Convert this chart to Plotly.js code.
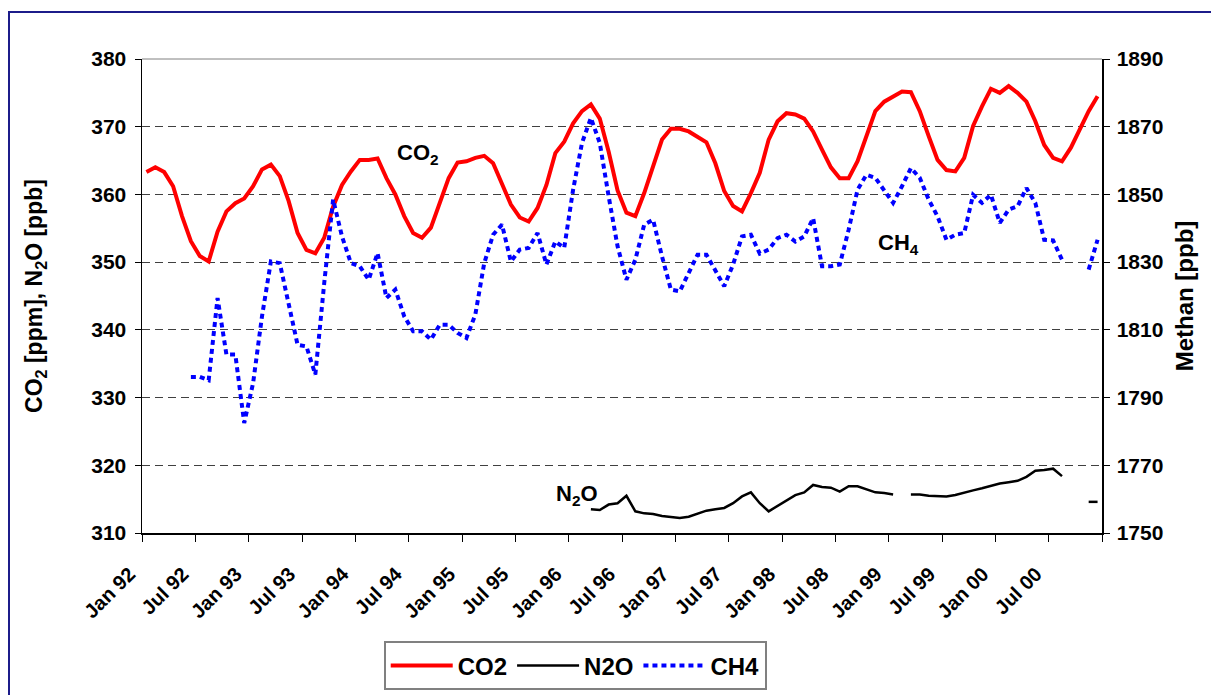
<!DOCTYPE html>
<html>
<head>
<meta charset="utf-8">
<script src="https://cdn.plot.ly/plotly-3.0.1.min.js"></script>
<style>
  body { margin: 0; background: #ffffff; overflow: hidden; }
  #frame { position: absolute; left: 8px; top: 11px; width: 1240px; height: 720px; border: 2px solid #1c1c8a; }
  #chart { position: absolute; left: 0; top: 0; width: 1211px; height: 695px; }
</style>
</head>
<body>
<div id="frame"></div>
<div id="chart"></div>
<script>
// monthly values, Jan 92 .. Dec 00 (108 months)
const co2 = [
    363.3, 364.0, 363.3, 361.2, 356.8, 353.1, 350.9, 350.1, 354.5, 357.5, 358.7, 359.4,
    361.2, 363.7, 364.4, 362.7, 359.0, 354.3, 351.8, 351.3, 353.6, 358.2, 361.4, 363.4,
    365.1, 365.1, 365.3, 362.4, 360.0, 356.8, 354.3, 353.6, 355.1, 358.7, 362.4, 364.7,
    364.9, 365.4, 365.7, 364.6, 361.7, 358.5, 356.6, 356.0, 358.0, 361.4, 366.1, 367.8,
    370.5, 372.3, 373.3, 371.2, 366.3, 360.6, 357.3, 356.8, 360.2, 364.1, 368.1, 369.7,
    369.7, 369.3, 368.5, 367.7, 364.6, 360.5, 358.3, 357.5, 360.2, 363.2, 368.1, 370.8,
    372.0, 371.8, 371.2, 369.3, 366.6, 364.0, 362.4, 362.4, 364.9, 368.8, 372.3, 373.7,
    374.5, 375.2, 375.1, 372.3, 368.6, 365.1, 363.6, 363.4, 365.4, 370.1, 373.0, 375.6,
    375.0, 376.0, 375.0, 373.7, 370.8, 367.3, 365.4, 364.9, 366.9, 369.6, 372.3, 374.5
];

const n2o = [
    null, null, null, null, null, null, null, null, null, null, null, null,
    null, null, null, null, null, null, null, null, null, null, null, null,
    null, null, null, null, null, null, null, null, null, null, null, null,
    null, null, null, null, null, null, null, null, null, null, null, null,
    null, null, 313.5, 313.4, 314.2, 314.4, 315.5, 313.2, 312.9, 312.8, 312.5, 312.4,
    312.2, 312.4, 312.8, 313.3, 313.5, 313.7, 314.4, 315.4, 316.0, 314.4, 313.2, 314.0,
    314.9, 315.6, 316.0, 317.1, 316.8, 316.7, 316.1, 316.9, 316.9, 316.4, 316.0, 315.9,
    315.7, null, 315.7, 315.7, 315.5, 315.4, 315.4, 315.6, 316.0, 316.3, 316.6, 317.0,
    317.3, 317.5, 317.7, 318.3, 319.2, 319.3, 319.5, 318.4, null, null, 314.6, 314.6
];

const ch4 = [
    null, null, null, null, null, 1796.1, 1796.1, 1795.1, 1819.4, 1802.7, 1802.7, 1782.5,
    1794.3, 1814.0, 1830.2, 1829.7, 1817.0, 1805.6, 1805.1, 1796.8, 1823.8, 1848.5, 1837.6, 1829.7,
    1828.8, 1824.8, 1832.7, 1819.4, 1821.9, 1814.0, 1809.6, 1809.6, 1807.1, 1811.5, 1811.5, 1809.1,
    1807.6, 1814.5, 1829.7, 1838.1, 1841.1, 1830.2, 1833.7, 1834.2, 1838.6, 1829.3, 1836.1, 1834.2,
    1851.4, 1865.2, 1872.6, 1865.2, 1849.4, 1834.7, 1824.8, 1830.7, 1841.1, 1842.5, 1831.7, 1821.9,
    1821.4, 1826.8, 1832.2, 1832.2, 1827.8, 1822.9, 1829.3, 1837.6, 1838.1, 1832.5, 1833.7, 1837.1,
    1838.1, 1836.1, 1837.6, 1843.0, 1828.8, 1828.8, 1829.3, 1839.6, 1851.4, 1855.8, 1854.9, 1851.4,
    1847.5, 1852.4, 1857.8, 1854.9, 1848.5, 1843.5, 1836.6, 1838.1, 1838.6, 1849.9, 1847.5, 1849.9,
    1841.6, 1845.5, 1846.5, 1851.9, 1847.5, 1836.6, 1836.4, 1830.7, null, null, 1827.8, 1836.6
];

const tickLabels = [
    "Jan 92", "Jul 92", "Jan 93", "Jul 93", "Jan 94", "Jul 94", "Jan 95", "Jul 95", "Jan 96",
    "Jul 96", "Jan 97", "Jul 97", "Jan 98", "Jul 98", "Jan 99", "Jul 99", "Jan 00", "Jul 00"
];

const months = co2.map((_, i) => i);
const labelPositions = tickLabels.map((_, k) => k * 6);
const boundaries = Array(tickLabels.length + 1).fill(0).map((_, k) => k * 6 - 0.5);

const FONT = "Liberation Sans, Arial, sans-serif";
const bold = (size) => ({ family: FONT, size: size, color: "#000000", weight: "bold" });

const co2_line = {
    name: "CO2",
    x: months,
    y: co2,
    mode: "lines",
    type: "scatter",
    line: { color: "#ff0000", width: 4 },
};

const n2o_line = {
    name: "N2O",
    x: months,
    y: n2o,
    mode: "lines",
    type: "scatter",
    connectgaps: false,
    line: { color: "#000000", width: 2.5 },
};

const ch4_line = {
    name: "CH4",
    x: months,
    y: ch4,
    yaxis: "y2",
    mode: "lines",
    type: "scatter",
    connectgaps: false,
    line: { color: "#0000ff", width: 4, dash: "5px,4px" },
};

const data = [co2_line, n2o_line, ch4_line];

const layout = {
    width: 1211,
    height: 695,
    margin: { l: 142, r: 109, t: 59, b: 162 },
    paper_bgcolor: "rgba(0,0,0,0)",
    plot_bgcolor: "rgba(0,0,0,0)",
    showlegend: true,
    legend: {
        orientation: "h",
        xref: "container",
        yref: "container",
        x: 0.475,
        xanchor: "center",
        y: 0.042,
        yanchor: "middle",
        bgcolor: "#ffffff",
        bordercolor: "#808080",
        borderwidth: 2,
        font: bold(24),
        itemwidth: 62,
    },
    xaxis: {
        range: [-0.5, 107.5],
        automargin: false,
        tickmode: "array",
        tickvals: labelPositions,
        ticktext: tickLabels,
        tickangle: -45,
        ticks: "",
        tickfont: bold(20),
        ticklabelstandoff: 20,
        ticklabelshift: -17,
        showgrid: false,
        zeroline: false,
        showline: true,
        linecolor: "#000000",
        linewidth: 1.5,
        minor: {
            tickmode: "array",
            tickvals: boundaries,
            ticks: "outside",
            ticklen: 7,
            tickcolor: "#000000",
            tickwidth: 1,
        },
    },
    yaxis: {
        range: [310, 380],
        dtick: 10,
        ticks: "outside",
        ticklen: 6,
        tickcolor: "#000000",
        tickfont: bold(21),
        ticklabelstandoff: 4,
        showline: true,
        linecolor: "#000000",
        linewidth: 1.5,
        zeroline: false,
        showgrid: true,
        gridcolor: "#404040",
        gridwidth: 1,
        griddash: "8px,5px",
        title: {
            text: "CO<sub>2</sub> [ppm], N<sub>2</sub>O [ppb]",
            font: bold(23),
            standoff: 42,
        },
    },
    yaxis2: {
        range: [1750, 1890],
        tick0: 1750,
        dtick: 20,
        overlaying: "y",
        side: "right",
        ticks: "outside",
        ticklen: 6,
        tickcolor: "#000000",
        tickfont: bold(21),
        ticklabelstandoff: 3,
        showline: true,
        linecolor: "#000000",
        linewidth: 1.5,
        zeroline: false,
        showgrid: false,
        title: {
            text: "Methan [ppb]",
            font: bold(24),
            standoff: 14,
        },
    },
    shapes: [
        {
            type: "line", xref: "paper", yref: "paper",
            x0: 0, x1: 1, y0: 1, y1: 1,
            line: { color: "#808080", width: 1 },
        },
    ],
    annotations: [
        { text: "CO<sub>2</sub>", x: 30.6, y: 366.0, xref: "x", yref: "y", showarrow: false, font: bold(22) },
        { text: "CH<sub>4</sub>", x: 84.6, y: 352.7, xref: "x", yref: "y", showarrow: false, font: bold(22) },
        { text: "N<sub>2</sub>O", x: 48.4, y: 315.6, xref: "x", yref: "y", showarrow: false, font: bold(22) },
    ],
};

Plotly.newPlot("chart", data, layout, { displayModeBar: false, staticPlot: true });
</script>
</body>
</html>
